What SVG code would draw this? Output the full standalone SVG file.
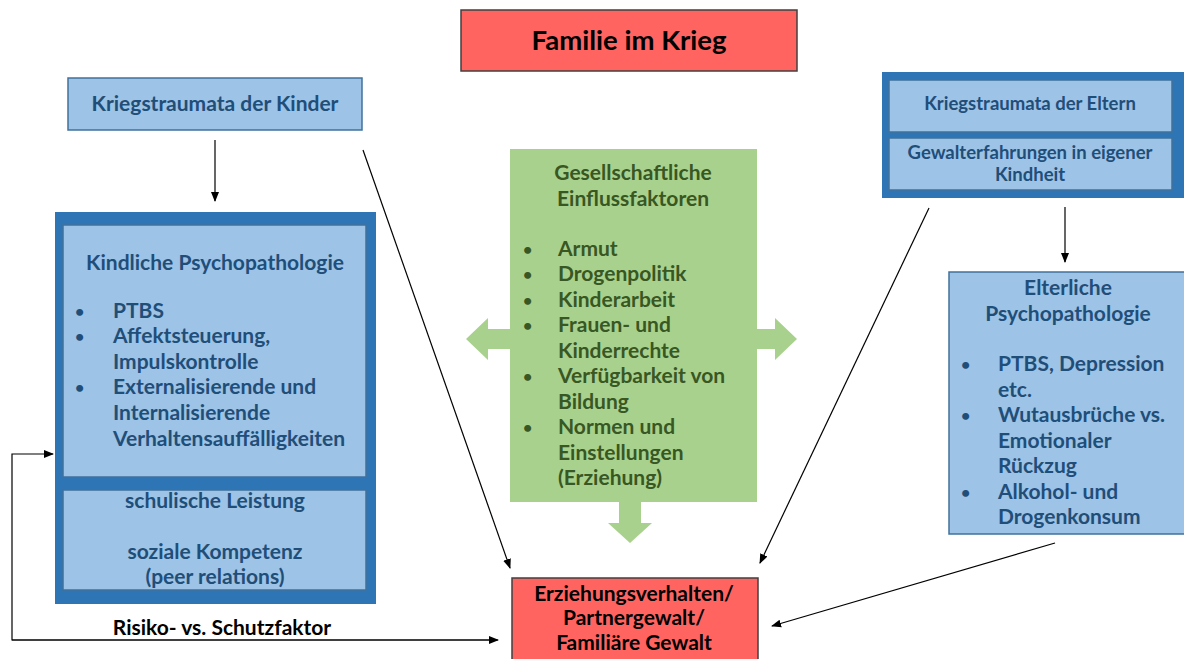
<svg xmlns="http://www.w3.org/2000/svg" width="1184" height="659" viewBox="0 0 1184 659">
<defs>
<style>
.t{font-family:Lato,"Open Sans","Liberation Sans",sans-serif;font-weight:bold}
.blue{fill:#1F4E79}
.green{fill:#385723}
.blk{fill:#000}
.lb{fill:#9DC3E6;stroke:#41719C;stroke-width:1.5}
.db{fill:#2E75B6}
.red{fill:#FF6461;stroke:#404040;stroke-width:1.5}
.gr{fill:#A9D18E}
.ln{stroke:#000;stroke-width:1.2;fill:none}
.b{font-size:16px}
</style>
<marker id="ah" markerWidth="10" markerHeight="10" refX="9" refY="5" orient="auto" markerUnits="userSpaceOnUse">
<path d="M0,1 L10,5 L0,9 z" fill="#000"/>
</marker>
</defs>
<rect width="1184" height="659" fill="#fff"/>

<g id="title">
<rect class="red" x="461" y="10" width="336" height="61"/>
<text class="t blk" x="629" y="50" font-size="27.5" text-anchor="middle">Familie im Krieg</text>
</g>

<g id="kinder-trauma">
<rect class="lb" x="68" y="78" width="294" height="52"/>
<text class="t blue" x="215" y="111" font-size="21" text-anchor="middle">Kriegstraumata der Kinder</text>
</g>

<g id="kindliche-psychopathologie">
<rect class="db" x="55" y="212" width="321" height="392"/>
<rect class="lb" x="63" y="225" width="303" height="252"/>
<text class="t blue" x="215" y="270" font-size="21" text-anchor="middle">Kindliche Psychopathologie</text>
<g class="t blue" font-size="21">
<text class="b" x="75" y="317">•</text><text x="113" y="318">PTBS</text>
<text class="b" x="75" y="342">•</text><text x="113" y="343">Affektsteuerung,</text>
<text x="113" y="369">Impulskontrolle</text>
<text class="b" x="75" y="393">•</text><text x="113" y="394">Externalisierende und</text>
<text x="113" y="420">Internalisierende</text>
<text x="113" y="446">Verhaltensauffälligkeiten</text>
</g>
<rect class="lb" x="63" y="490" width="303" height="100"/>
<g class="t blue" font-size="21" text-anchor="middle">
<text x="215" y="508">schulische Leistung</text>
<text x="215" y="559">soziale Kompetenz</text>
<text x="215" y="584">(peer relations)</text>
</g>
</g>

<g id="gesellschaft">
<rect class="gr" x="510" y="149" width="247" height="353"/>
<path class="gr" d="M510,329 L488,329 L488,318 L466,339 L488,360 L488,349 L510,349 z"/>
<path class="gr" d="M757,329 L775,329 L775,318 L797,339 L775,360 L775,349 L757,349 z"/>
<path class="gr" d="M619,502 L619,523 L608,523 L630,543 L652,523 L641,523 L641,502 z"/>
<g class="t green" font-size="21">
<text x="633" y="180" text-anchor="middle">Gesellschaftliche</text>
<text x="633" y="206" text-anchor="middle">Einflussfaktoren</text>
<text class="b" x="523" y="255">•</text><text x="558" y="256">Armut</text>
<text class="b" x="523" y="280">•</text><text x="558" y="281">Drogenpolitik</text>
<text class="b" x="523" y="306">•</text><text x="558" y="307">Kinderarbeit</text>
<text class="b" x="523" y="331">•</text><text x="558" y="332">Frauen- und</text>
<text x="558" y="358">Kinderrechte</text>
<text class="b" x="523" y="382">•</text><text x="558" y="383">Verfügbarkeit von</text>
<text x="558" y="409">Bildung</text>
<text class="b" x="523" y="433">•</text><text x="558" y="434">Normen und</text>
<text x="558" y="460">Einstellungen</text>
<text x="558" y="485">(Erziehung)</text>
</g>
</g>

<g id="eltern-trauma">
<rect class="db" x="882" y="72" width="302" height="126"/>
<rect class="lb" x="889" y="80" width="283" height="52"/>
<rect class="lb" x="889" y="138" width="283" height="52"/>
<g class="t blue" font-size="18.5" text-anchor="middle">
<text x="1030" y="110">Kriegstraumata der Eltern</text>
<text x="1030" y="159">Gewalterfahrungen in eigener</text>
<text x="1030" y="181">Kindheit</text>
</g>
</g>

<g id="elterliche-psychopathologie">
<rect class="lb" x="949" y="272" width="240" height="262"/>
<g class="t blue" font-size="21">
<text x="1068" y="295" text-anchor="middle">Elterliche</text>
<text x="1068" y="321" text-anchor="middle">Psychopathologie</text>
<text class="b" x="961" y="370">•</text><text x="998" y="371">PTBS, Depression</text>
<text x="998" y="397">etc.</text>
<text class="b" x="961" y="421">•</text><text x="998" y="422">Wutausbrüche vs.</text>
<text x="998" y="448">Emotionaler</text>
<text x="998" y="473">Rückzug</text>
<text class="b" x="961" y="498">•</text><text x="998" y="499">Alkohol- und</text>
<text x="998" y="524">Drogenkonsum</text>
</g>
</g>

<g id="erziehung">
<rect class="red" x="512" y="578" width="246" height="90"/>
<g class="t blk" font-size="21" text-anchor="middle">
<text x="634" y="601">Erziehungsverhalten/</text>
<text x="634" y="625">Partnergewalt/</text>
<text x="634" y="650">Familiäre Gewalt</text>
</g>
</g>

<g id="connectors">
<line class="ln" x1="215" y1="140" x2="215" y2="201" marker-end="url(#ah)"/>
<line class="ln" x1="363" y1="150" x2="510" y2="568" marker-end="url(#ah)"/>
<line class="ln" x1="1065" y1="207" x2="1065" y2="262" marker-end="url(#ah)"/>
<line class="ln" x1="929" y1="208" x2="760" y2="563" marker-end="url(#ah)"/>
<line class="ln" x1="1055" y1="543" x2="772" y2="626" marker-end="url(#ah)"/>
<path class="ln" d="M497,640 L12,640 L12,454 L53,454" marker-end="url(#ah)"/>
<line class="ln" x1="12" y1="640" x2="498" y2="640" marker-end="url(#ah)"/>
<text class="t blk" x="222" y="635" font-size="21" text-anchor="middle">Risiko- vs. Schutzfaktor</text>
</g>
</svg>
